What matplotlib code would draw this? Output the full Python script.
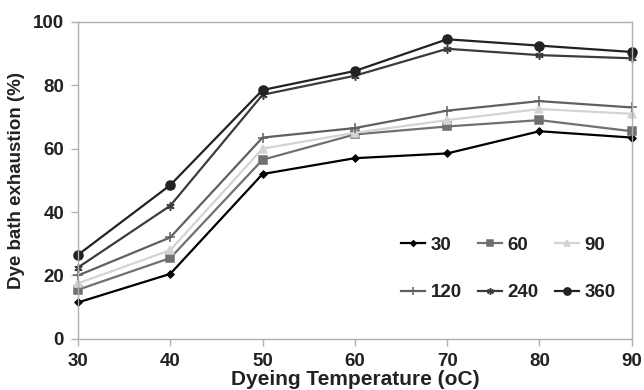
import matplotlib
matplotlib.use("Agg")
import matplotlib.pyplot as plt

# -----------------------------
# Data
# -----------------------------
temperature = [30, 40, 50, 60, 70, 80, 90]
series_labels = ["30", "60", "90", "120", "240", "360"]
exh_30 = [11.5, 20.5, 52, 57, 58.5, 65.5, 63.5]
exh_60 = [15.5, 25.5, 56.5, 64.5, 67, 69, 65.5]
exh_90 = [17.5, 28, 60, 65, 69, 72.5, 71]
exh_120 = [20, 32, 63.5, 66.5, 72, 75, 73]
exh_240 = [22.5, 42, 77, 83, 91.5, 89.5, 88.5]
exh_360 = [26.5, 48.5, 78.5, 84.5, 94.5, 92.5, 90.5]

plt.rcParams['font.family'] = ['Liberation Sans', 'DejaVu Sans']
plt.rcParams['font.weight'] = 'bold'

fig = plt.figure(figsize=(6.44, 3.9), dpi=100)
ax = fig.add_axes([0.121, 0.131, 0.86, 0.813])

styles = [
    (exh_30, "#000000", "D", 3.5),
    (exh_60, "#707070", "s", 5.5),
    (exh_90, "#d4d4d4", "^", 5.5),
    (exh_120, "#606060", "+", 7),
    (exh_240, "#3c3c3c", (6, 2, 0), 6),
    (exh_360, "#222222", "o", 6.5),
]
handles = []
for (vals, color, marker, ms), lab in zip(styles, series_labels):
    h, = ax.plot(temperature, vals, color=color, marker=marker, markersize=ms,
                 linewidth=1.6, label=lab, markeredgewidth=1.1, clip_on=False)
    handles.append(h)

ax.set_xlim(30, 90)
ax.set_ylim(0, 100)
ax.set_xticks(temperature)
ax.set_yticks([0, 20, 40, 60, 80, 100])
ax.tick_params(labelsize=13.5, colors="#222222", direction="out", length=5,
               color="#b0b0b0", width=1, pad=5)
for lbl in ax.get_xticklabels() + ax.get_yticklabels():
    lbl.set_fontweight("bold")
for s in ax.spines.values():
    s.set_color("#b0b0b0")
    s.set_linewidth(1)

ax.set_xlabel("Dyeing Temperature (oC)", fontsize=15, fontweight="bold",
              color="#222222", labelpad=0)
ax.set_ylabel("Dye bath exhaustion (%)", fontsize=13.5, fontweight="bold",
              color="#222222", labelpad=6)

# legend filled row by row (3 columns)
order = [0, 3, 1, 4, 2, 5]
leg = ax.legend([handles[i] for i in order], [series_labels[i] for i in order],
                ncol=3, loc="upper left", bbox_to_anchor=(0.552, 0.375),
                frameon=False, fontsize=13.5, handlelength=1.3,
                columnspacing=0.85, labelspacing=1.6, handletextpad=0.3,
                markerscale=0.8)
for t in leg.get_texts():
    t.set_fontweight("bold")
    t.set_color("#222222")

fig.savefig("out.png", dpi=100)
